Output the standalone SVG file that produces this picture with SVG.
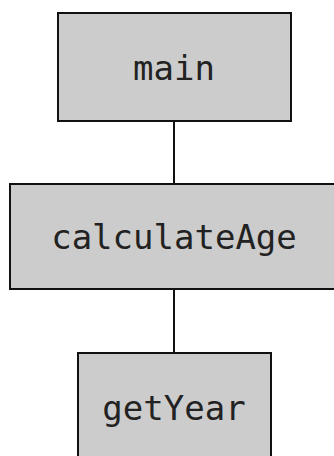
<svg xmlns="http://www.w3.org/2000/svg" width="334" height="456" viewBox="0 0 334 456">
<style>
.box{fill:#cccccc;stroke:#111111;stroke-width:2}
.lbl{font-family:"DejaVu Sans Mono","Liberation Mono",monospace;font-size:34px;fill:#222222;text-anchor:middle}
.edge{stroke:#111111;stroke-width:2;fill:none}
</style>
<rect width="334" height="456" fill="#ffffff"/>
<g id="connectors">
<line class="edge" x1="174" y1="121" x2="174" y2="184"/>
<line class="edge" x1="174" y1="289" x2="174" y2="353"/>
</g>
<g id="main">
<rect class="box" x="58" y="13" width="233" height="108"/>
<text class="lbl" x="174" y="80">main</text>
</g>
<g id="calculateAge">
<rect class="box" x="10" y="184" width="328" height="105"/>
<text class="lbl" x="174" y="249">calculateAge</text>
</g>
<g id="getYear">
<rect class="box" x="78" y="353" width="193" height="108"/>
<text class="lbl" x="174" y="420">getYear</text>
</g>
</svg>
